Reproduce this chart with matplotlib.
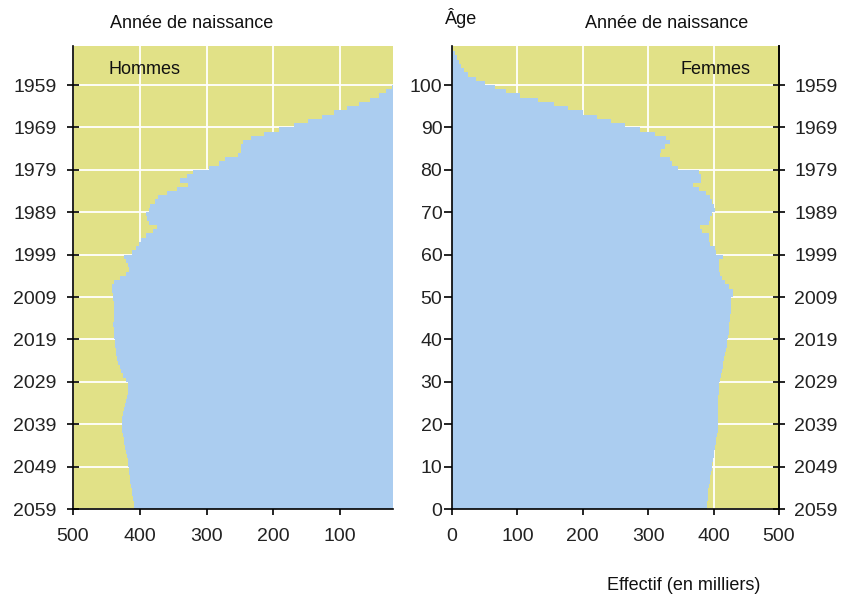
import numpy as np
import matplotlib.pyplot as plt

# Population par âge (en milliers), âges 0 à 109
ages = list(range(0, 110))
hommes = [409, 409, 410, 411, 412, 413, 414, 415, 416, 416,
          417, 418, 419, 421, 422, 423, 424, 425, 426, 427,
          427, 427, 425, 424, 422, 420, 419, 417, 417, 418,
          421, 425, 428, 430, 432, 434, 435, 436, 437, 437,
          438, 438, 439, 440, 439, 439, 439, 439, 439, 440,
          440, 442, 442, 438, 430, 420, 416, 417, 421, 424,
          412, 406, 401, 398, 390, 380, 374, 386, 389, 390,
          386, 385, 378, 373, 359, 345, 328, 340, 330, 321,
          297, 282, 272, 253, 248, 248, 246, 233, 214, 192,
          169, 148, 127, 110, 90, 72, 56, 42, 32, 22,
          15, 11, 8, 5, 3, 2, 1, 1, 0, 0]
femmes = [390, 390, 391, 391, 392, 393, 394, 395, 396, 397,
          398, 399, 400, 401, 402, 403, 404, 405, 406, 406,
          407, 407, 407, 407, 407, 407, 407, 408, 408, 409,
          410, 412, 413, 414, 415, 416, 418, 419, 420, 421,
          422, 423, 423, 424, 425, 425, 426, 426, 426, 426,
          430, 429, 424, 417, 413, 410, 408, 408, 409, 415,
          404, 402, 394, 393, 393, 383, 379, 393, 395, 398,
          402, 401, 397, 394, 388, 378, 369, 381, 380, 378,
          345, 337, 334, 318, 320, 325, 333, 327, 310, 288,
          265, 243, 221, 201, 178, 156, 131, 104, 83, 66,
          50, 37, 25, 19, 14, 10, 7, 4, 2, 1]

age_ticks = list(range(0, 101, 10))
age_labels = [str(a) for a in age_ticks]
year_labels = [str(2059 - a) for a in age_ticks]
x_ticks_h = [500, 400, 300, 200, 100]
x_ticks_f = [0, 100, 200, 300, 400, 500]

plt.rcParams['font.family'] = ['Liberation Sans', 'DejaVu Sans']

jaune = '#E1E187'
bleu = '#ABCDF0'
W, H = 841, 596

fig = plt.figure(figsize=(W / 100, H / 100), dpi=100)
ax_h = fig.add_axes([73 / W, 87 / H, 320 / W, 463 / H])
ax_f = fig.add_axes([452 / W, 87 / H, 327 / W, 463 / H])

for ax, vals in [(ax_h, hommes), (ax_f, femmes)]:
    ax.set_facecolor(jaune)
    ax.set_axisbelow(True)
    ax.grid(True, color='white', linewidth=1.3)
    ax.barh(ages, vals, height=1, align='edge', color=bleu, linewidth=0)
    ax.set_ylim(0, 109.2)
    ax.set_yticks(age_ticks)
    ax.spines['top'].set_visible(False)
    for s in ax.spines.values():
        s.set_linewidth(1.2)
    ax.tick_params(axis='x', direction='out', length=4, width=1.2,
                   labelsize=14, pad=10, labelcolor='#222222')

# Hommes
ax_h.set_xlim(500, 21)
ax_h.set_xticks(x_ticks_h)
ax_h.set_yticklabels(year_labels)
ax_h.spines['right'].set_visible(False)
ax_h.tick_params(axis='y', direction='inout', length=8, width=1.2,
                 labelsize=14, pad=8, labelcolor='#222222')

# Femmes
ax_f.set_xlim(0, 500)
ax_f.set_xticks(x_ticks_f)
ax_f.set_yticklabels(age_labels)
ax_f.tick_params(axis='y', direction='out', length=6, width=1.2,
                 labelsize=14, pad=1, labelcolor='#222222')

ax_y = ax_f.twinx()
ax_y.set_ylim(0, 109.2)
ax_y.set_yticks(age_ticks)
ax_y.set_yticklabels(year_labels)
ax_y.tick_params(axis='y', direction='inout', length=8, width=1.2,
                 labelsize=14, pad=7, labelcolor='#222222')
for s in ['top', 'left', 'bottom']:
    ax_y.spines[s].set_visible(False)
ax_y.spines['right'].set_linewidth(1.2)

def txt(x, y, s, ha='center'):
    fig.text(x / W, 1 - y / H, s, ha=ha, va='center', fontsize=13,
             color='#111111')

txt(192, 24, 'Année de naissance')
txt(461, 18, 'Âge')
txt(667, 24, 'Année de naissance')
txt(108, 70, 'Hommes', ha='left')
txt(750, 70, 'Femmes', ha='right')
txt(684, 585, 'Effectif (en milliers)')

fig.savefig('out.png', dpi=100)
